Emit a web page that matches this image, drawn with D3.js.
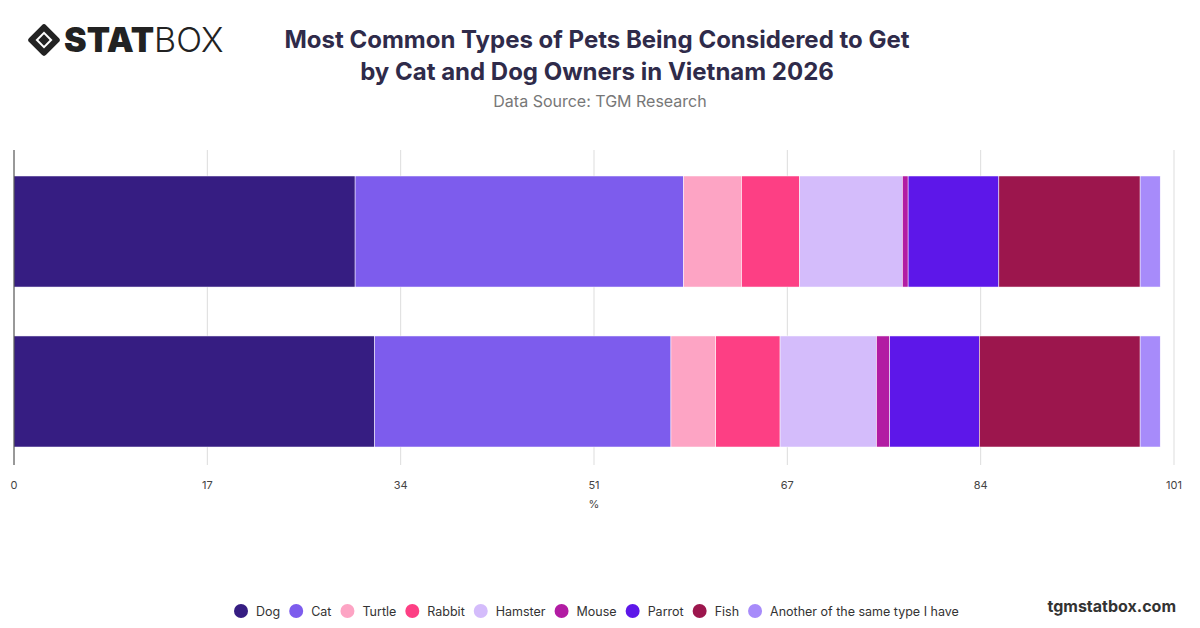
<!DOCTYPE html>
<html><head><meta charset="utf-8">
<script src="https://cdn.jsdelivr.net/npm/d3@7"></script>
<style>
body{margin:0;background:#fff;font-family:Inter,"Noto Sans",sans-serif;}
</style></head>
<body><svg id="chart" width="1200" height="628"></svg>
<script>
const groups = ['Cat Owners', 'Dog Owners'];
const pets = ['Dog', 'Cat', 'Turtle', 'Rabbit', 'Hamster', 'Mouse', 'Parrot', 'Fish', 'Another of the same type I have'];
const colors = ['#361d82', '#7d5ced', '#fda4c4', '#fd3f84', '#d4bcfb', '#b21ca3', '#5d17e9', '#9c164d', '#a78bfa'];
const catOwners = [29.7, 28.6, 5.05, 5.05, 8.95, 0.5, 7.9, 12.3, 1.75];
const dogOwners = [31.4, 25.8, 3.9, 5.6, 8.4, 1.15, 7.8, 14.0, 1.75];
const tickVals = [0, 17, 34, 51, 67, 84, 101];

const svg = d3.select('#chart');
const pLeft = 14, pRight = 1174, pTop = 150, pBottom = 465;

// logo
const logo = svg.append('g').attr('transform', 'translate(44,40)');
logo.append('rect').attr('x', -12).attr('y', -12).attr('width', 24).attr('height', 24)
    .attr('transform', 'rotate(45)').attr('fill', '#222').attr('rx', 3);
logo.append('rect').attr('x', -6).attr('y', -6).attr('width', 12).attr('height', 12)
    .attr('transform', 'rotate(45)').attr('fill', '#fff');
logo.append('rect').attr('x', -4).attr('y', -4).attr('width', 8).attr('height', 8)
    .attr('transform', 'rotate(45)').attr('fill', '#222');
svg.append('text').attr('x', 64).attr('y', 52).attr('font-size', 34).attr('fill', '#222')
    .attr('font-family', 'Inter, sans-serif')
    .html('<tspan font-weight="900">STAT</tspan><tspan font-weight="300">BOX</tspan>');

// title
svg.append('text').attr('x', 597).attr('y', 48).attr('text-anchor', 'middle')
    .attr('font-size', 24).attr('font-weight', 700).attr('fill', '#2f2b4a')
    .text('Most Common Types of Pets Being Considered to Get');
svg.append('text').attr('x', 597).attr('y', 80).attr('text-anchor', 'middle')
    .attr('font-size', 24).attr('font-weight', 700).attr('fill', '#2f2b4a')
    .text('by Cat and Dog Owners in Vietnam 2026');
svg.append('text').attr('x', 600).attr('y', 107).attr('text-anchor', 'middle')
    .attr('font-size', 16).attr('fill', '#777').text('Data Source: TGM Research');

const x = d3.scaleLinear().domain([0, 101]).range([pLeft, pRight]);
const y = d3.scaleBand().domain(groups).range([152, 471]).paddingInner(0.306).paddingOuter(0.15);

// grid
svg.append('g').selectAll('line').data(tickVals.slice(1)).enter().append('line')
    .attr('x1', (d, i) => x(101 * (i + 1) / 6)).attr('x2', (d, i) => x(101 * (i + 1) / 6))
    .attr('y1', pTop).attr('y2', pBottom).attr('stroke', '#ddd');

const data = [catOwners, dogOwners];
data.forEach((vals, gi) => {
    let acc = 0;
    const segs = vals.map((v, i) => { const s = { x0: acc, x1: acc + v, c: colors[i] }; acc += v; return s; });
    svg.append('g').selectAll('rect').data(segs).enter().append('rect')
        .attr('x', d => x(d.x0)).attr('width', d => x(d.x1) - x(d.x0))
        .attr('y', y(groups[gi])).attr('height', y.bandwidth())
        .attr('fill', d => d.c).attr('stroke', '#fff').attr('stroke-width', 0.5);
});

// axis
svg.append('line').attr('x1', pLeft).attr('x2', pLeft).attr('y1', pTop).attr('y2', pBottom)
    .attr('stroke', '#333');
svg.append('g').selectAll('text').data(tickVals).enter().append('text')
    .attr('x', (d, i) => x(101 * i / 6)).attr('y', 489).attr('text-anchor', 'middle')
    .attr('font-size', 11).attr('fill', '#444').text(d => d);
svg.append('text').attr('x', 594).attr('y', 508).attr('text-anchor', 'middle')
    .attr('font-size', 11).attr('fill', '#444').text('%');

// legend
const legend = svg.append('g').attr('transform', 'translate(0,611)');
let lx = 234;
pets.forEach((p, i) => {
    const g = legend.append('g').attr('transform', `translate(${lx},0)`);
    g.append('circle').attr('cx', 7).attr('cy', 0).attr('r', 7).attr('fill', colors[i]);
    const t = g.append('text').attr('x', 22).attr('y', 4.5).attr('font-size', 12.5).attr('fill', '#333').text(p);
    lx += 22 + t.node().getComputedTextLength() + 9;
});

svg.append('text').attr('x', 1176).attr('y', 612).attr('text-anchor', 'end')
    .attr('font-size', 16).attr('font-weight', 700).attr('fill', '#333').text('tgmstatbox.com');
</script></body></html>
